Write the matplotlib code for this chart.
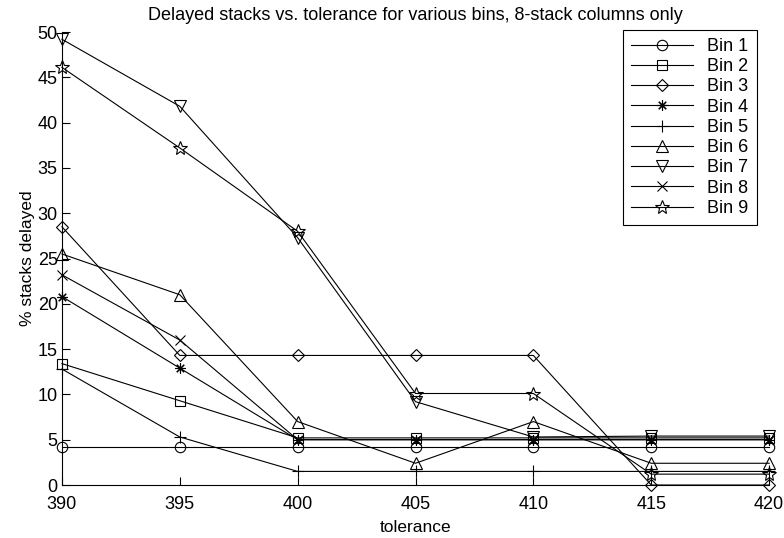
import numpy as np
import matplotlib.pyplot as plt

plt.rcParams['font.family'] = ['Liberation Sans', 'DejaVu Sans']

tolerance = [390, 395, 400, 405, 410, 415, 420]

bin1 = [4.2, 4.2, 4.2, 4.2, 4.2, 4.2, 4.2]
bin2 = [13.4, 9.3, 5.2, 5.2, 5.2, 5.2, 5.2]
bin3 = [28.5, 14.3, 14.3, 14.3, 14.3, 0.0, 0.0]
bin4 = [20.8, 12.9, 5.0, 5.0, 5.0, 5.0, 5.0]
bin5 = [12.8, 5.3, 1.5, 1.5, 1.5, 1.5, 1.5]
bin6 = [25.5, 21.0, 7.0, 2.4, 7.0, 2.4, 2.4]
bin7 = [49.2, 41.8, 27.3, 9.2, 5.3, 5.4, 5.4]
bin8 = [23.2, 16.0, 5.0, 5.0, 5.0, 5.0, 5.0]
bin9 = [46.1, 37.2, 28.0, 10.1, 10.1, 1.2, 1.2]

series = [bin1, bin2, bin3, bin4, bin5, bin6, bin7, bin8, bin9]
labels = ["Bin 1", "Bin 2", "Bin 3", "Bin 4", "Bin 5",
          "Bin 6", "Bin 7", "Bin 8", "Bin 9"]
# matlab-ish symbols: o s d * + ^ v x pentagram
markers = ["o", "s", "D", (8, 2, 0), "+", "^", "v", "x", "*"]
sizes = [7.5, 6.5, 6.5, 7.5, 9, 8.5, 8.5, 6.5, 10]

fig = plt.figure(figsize=(7.84, 5.38), dpi=100)
ax = fig.add_axes([0.079, 0.0985, 0.902, 0.842])

for y, lab, m, s in zip(series, labels, markers, sizes):
    ax.plot(tolerance, y, color="black", lw=0.8, marker=m, markersize=s,
            markerfacecolor="none", markeredgecolor="black",
            markeredgewidth=0.8, label=lab, clip_on=False)

ax.set_xlim(390, 420)
ax.set_ylim(0, 50)
ax.set_xticks(np.arange(390, 421, 5))
ax.set_yticks(np.arange(0, 51, 5))
ax.tick_params(direction="in", labelsize=13, length=6, width=0.8)
ax.tick_params(axis="x", pad=8)
ax.tick_params(axis="y", pad=3)
ax.spines["top"].set_visible(False)
ax.spines["right"].set_visible(False)
ax.spines["left"].set_linewidth(0.8)
ax.spines["bottom"].set_linewidth(0.8)

ax.set_xlabel("tolerance", fontsize=12.5, labelpad=5)
ax.set_ylabel("% stacks delayed", fontsize=12.5, labelpad=2)
ax.set_title("Delayed stacks vs. tolerance for various bins, 8-stack columns only",
             fontsize=13, pad=9)

leg = ax.legend(loc="upper right", bbox_to_anchor=(0.995, 1.025), fontsize=13,
                handlelength=3.4, labelspacing=0.18, borderpad=0.45,
                fancybox=False, edgecolor="black", framealpha=1)
leg.get_frame().set_linewidth(0.8)

fig.savefig("out.png", dpi=100)
